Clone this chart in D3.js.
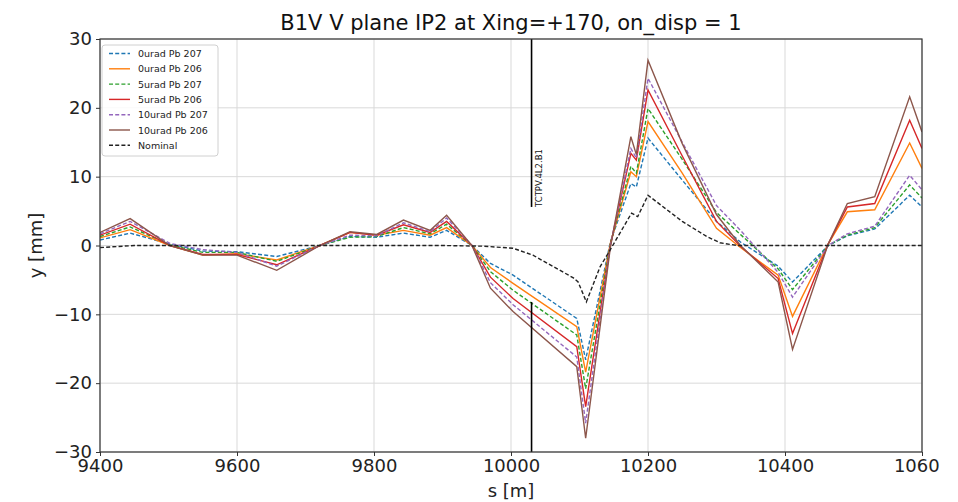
<!DOCTYPE html>
<html>
<head>
<meta charset="utf-8">
<script src="https://cdn.jsdelivr.net/npm/d3@7"></script>
<style>
  body { margin: 0; background: #fff; }
  text { font-family: "DejaVu Sans", sans-serif; }
</style>
</head>
<body>
<svg id="chart" width="958" height="502"></svg>
<script>
// s positions [m] shared by the six offset curves
const sPts = [9400, 9444, 9502, 9550, 9600, 9658, 9721, 9765, 9804, 9843, 9882, 9906, 9943, 9970,
              10003, 10096, 10109, 10145, 10175, 10183, 10200, 10250, 10300, 10335, 10390, 10411,
              10463, 10491, 10531, 10582, 10600];

// y [mm] of each case
const urad0Pb207  = [0.8, 1.8, 0.2, -0.8, -0.9, -1.6, 0, 1.3, 1.2, 1.8, 1.2, 2.2, 0, -2.6,
                     -4.3, -10.6, -16.6, 0.5, 9.0, 8.5, 15.6, 9.5, 3.5, 0.5, -3.0, -5.3,
                     0, 1.4, 2.4, 7.3, 5.6];
const urad0Pb206  = [1.1, 2.3, 0, -1.4, -1.2, -2.1, 0, 1.9, 1.5, 2.2, 1.5, 2.6, 0, -3.2,
                     -5.5, -11.8, -18.4, 0.3, 10.7, 10.0, 18.0, 10.5, 2.5, -0.3, -4.3, -10.3,
                     0.2, 4.9, 5.2, 14.9, 11.2];
const urad5Pb207  = [1.3, 2.7, 0.1, -1.0, -1.0, -2.3, 0, 1.2, 1.3, 2.6, 1.7, 3.1, 0, -3.8,
                     -6.5, -13.0, -20.8, 0.2, 11.5, 10.5, 19.9, 12.5, 4.8, 1.6, -3.4, -6.4,
                     0, 1.5, 2.6, 8.8, 6.9];
const urad5Pb206  = [1.5, 3.1, 0, -1.3, -1.3, -2.8, 0, 1.9, 1.5, 3.0, 1.9, 3.5, 0, -4.6,
                     -7.7, -14.7, -23.4, 0, 13.4, 12.4, 22.6, 13.0, 3.5, -0.1, -4.8, -12.8,
                     0.2, 5.6, 6.1, 18.2, 14.1];
const urad10Pb207 = [1.7, 3.5, 0.3, -0.6, -1.0, -3.0, 0, 1.5, 1.4, 3.3, 2.0, 4.0, 0, -5.4,
                     -8.6, -16.2, -25.8, 0, 14.1, 12.7, 24.3, 15.0, 5.8, 2.2, -3.9, -7.5,
                     0, 1.7, 2.8, 10.2, 8.1];
const urad10Pb206 = [1.9, 3.9, 0, -1.4, -1.4, -3.6, 0, 2.0, 1.6, 3.7, 2.2, 4.4, 0, -6.2,
                     -9.6, -17.6, -28.0, -0.3, 15.8, 13.2, 26.9, 14.8, 4.5, 0, -5.3, -15.1,
                     0.2, 6.1, 7.1, 21.6, 16.5];

// nominal orbit
const sNominal = [9400, 9450, 9900, 9960, 10003, 10032, 10091, 10098, 10110, 10130, 10145, 10159,
                  10176, 10185, 10200, 10250, 10286, 10305, 10330, 10600];
const yNominal = [-0.3, 0, 0, -0.1, -0.4, -1.4, -4.7, -5.3, -8.2, -3.1, -0.6, 1.8,
                  4.7, 4.2, 7.3, 3.5, 1.3, 0.4, 0, 0];

const seriesNames  = ["0urad Pb 207", "0urad Pb 206", "5urad Pb 207", "5urad Pb 206",
                      "10urad Pb 207", "10urad Pb 206"];
const seriesValues = [urad0Pb207, urad0Pb206, urad5Pb207, urad5Pb206, urad10Pb207, urad10Pb206];
const seriesColors = ["#1f77b4", "#ff7f0e", "#2ca02c", "#d62728", "#9467bd", "#8c564b"];
const seriesDashed = [true, false, true, false, true, false];

// collimator TCTPV.4L2.B1
const collName = "TCTPV.4L2.B1";
const collS = 10030;
const collJaws = [5.6, -8.2];

const xTicks = [9400, 9600, 9800, 10000, 10200, 10400, 10600];
const yTicks = [-30, -20, -10, 0, 10, 20, 30];

const svg = d3.select("#chart");
const margin = {left: 100, right: 36, top: 39, bottom: 50};
const width = 958, height = 502;

const x = d3.scaleLinear().domain([9400, 10600]).range([margin.left, width - margin.right]);
const y = d3.scaleLinear().domain([-30, 30]).range([height - margin.bottom, margin.top]);

function fmtY(d) {
    return d < 0 ? "\u2212" + Math.abs(d) : String(d);
}

// grid
svg.append("g")
    .selectAll("line.gx")
    .data(xTicks)
    .enter().append("line")
    .attr("x1", d => x(d)).attr("x2", d => x(d))
    .attr("y1", y(-30)).attr("y2", y(30))
    .attr("stroke", "#d9d9d9").attr("stroke-width", 1);

svg.append("g")
    .selectAll("line.gy")
    .data(yTicks)
    .enter().append("line")
    .attr("x1", x(9400)).attr("x2", x(10600))
    .attr("y1", d => y(d)).attr("y2", d => y(d))
    .attr("stroke", "#d9d9d9").attr("stroke-width", 1);

// curves
svg.append("clipPath").attr("id", "plotClip")
    .append("rect")
    .attr("x", x(9400)).attr("y", y(30))
    .attr("width", x(10600) - x(9400)).attr("height", y(-30) - y(30));

// the saved figure cuts off the last tick label
svg.append("clipPath").attr("id", "figClip")
    .append("rect")
    .attr("x", 0).attr("y", 0)
    .attr("width", 940).attr("height", height);

const plot = svg.append("g").attr("clip-path", "url(#plotClip)");

const line = d3.line()
    .x(d => x(d[0]))
    .y(d => y(d[1]));

seriesValues.forEach(function(vals, i) {
    plot.append("path")
        .datum(sPts.map((s, j) => [s, vals[j]]))
        .attr("d", line)
        .attr("fill", "none")
        .attr("stroke", seriesColors[i])
        .attr("stroke-width", 1.4)
        .attr("stroke-dasharray", seriesDashed[i] ? "4,2.2" : null);
});

plot.append("path")
    .datum(sNominal.map((s, j) => [s, yNominal[j]]))
    .attr("d", line)
    .attr("fill", "none")
    .attr("stroke", "#222")
    .attr("stroke-width", 1.4)
    .attr("stroke-dasharray", "4,2.2");

// collimator jaws
plot.append("line")
    .attr("x1", x(collS)).attr("x2", x(collS))
    .attr("y1", y(30)).attr("y2", y(collJaws[0]))
    .attr("stroke", "black").attr("stroke-width", 1.6);
plot.append("line")
    .attr("x1", x(collS)).attr("x2", x(collS))
    .attr("y1", y(-30)).attr("y2", y(collJaws[1]))
    .attr("stroke", "black").attr("stroke-width", 1.6);

svg.append("text")
    .attr("transform", `translate(${x(collS) + 10},${y(collJaws[0])}) rotate(-90)`)
    .attr("font-size", 8.5)
    .attr("fill", "#111")
    .text(collName);

// axes
const xAxis = svg.append("g")
    .attr("clip-path", "url(#figClip)")
    .append("g")
    .attr("transform", `translate(0,${y(-30)})`)
    .call(d3.axisBottom(x).tickValues(xTicks).tickFormat(d3.format("d")).tickSize(4).tickPadding(3));
const yAxis = svg.append("g")
    .attr("transform", `translate(${x(9400)},0)`)
    .call(d3.axisLeft(y).tickValues(yTicks).tickFormat(fmtY).tickSize(4).tickPadding(4));

[xAxis, yAxis].forEach(function(a) {
    a.select(".domain").remove();
    a.selectAll("line").attr("stroke", "#333");
    a.selectAll("text")
        .attr("font-family", "DejaVu Sans, sans-serif")
        .attr("font-size", 18)
        .attr("fill", "#222");
});

// frame
svg.append("rect")
    .attr("x", x(9400)).attr("y", y(30))
    .attr("width", x(10600) - x(9400)).attr("height", y(-30) - y(30))
    .attr("fill", "none").attr("stroke", "#333").attr("stroke-width", 1.2);

// labels
svg.append("text")
    .attr("x", (x(9400) + x(10600)) / 2).attr("y", 30)
    .attr("text-anchor", "middle")
    .attr("font-size", 21)
    .attr("fill", "#111")
    .text("B1V V plane IP2 at Xing=+170, on_disp = 1");

svg.append("text")
    .attr("x", (x(9400) + x(10600)) / 2).attr("y", 497)
    .attr("text-anchor", "middle")
    .attr("font-size", 18)
    .attr("fill", "#222")
    .text("s [m]");

svg.append("text")
    .attr("transform", `translate(42,${y(0)}) rotate(-90)`)
    .attr("text-anchor", "middle")
    .attr("font-size", 18)
    .attr("fill", "#222")
    .text("y [mm]");

// legend
const legendNames  = seriesNames.concat(["Nominal"]);
const legendColors = seriesColors.concat(["#222"]);
const legendDashed = seriesDashed.concat([true]);

const legend = svg.append("g").attr("transform", "translate(102,45)");
legend.append("rect")
    .attr("x", 0).attr("y", 0)
    .attr("width", 116).attr("height", 111)
    .attr("rx", 3)
    .attr("fill", "white").attr("fill-opacity", 0.85)
    .attr("stroke", "#d0d0d0");

const item = legend.selectAll(".legend")
    .data(legendNames)
    .enter().append("g")
    .attr("class", "legend")
    .attr("transform", (d, i) => `translate(0,${8.5 + i * 15.3})`);

item.append("line")
    .attr("x1", 7).attr("x2", 28)
    .attr("y1", 0).attr("y2", 0)
    .attr("stroke", (d, i) => legendColors[i])
    .attr("stroke-width", 1.4)
    .attr("stroke-dasharray", (d, i) => legendDashed[i] ? "4,2.2" : null);

item.append("text")
    .attr("x", 36).attr("y", 3.5)
    .attr("font-size", 9.5)
    .attr("fill", "#222")
    .text(d => d);
</script>
</body>
</html>
